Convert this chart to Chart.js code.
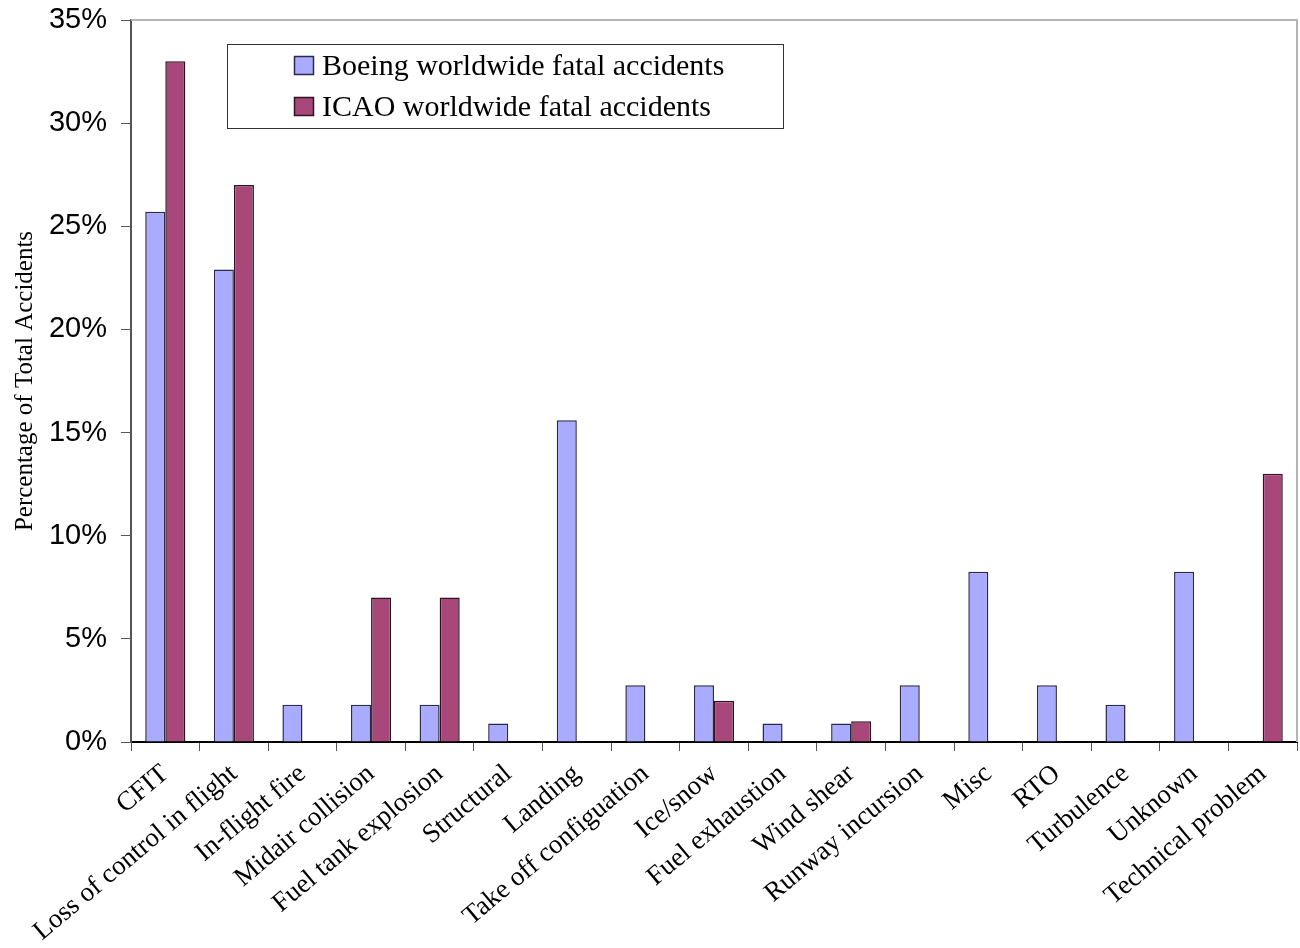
<!DOCTYPE html>
<html>
<head>
<meta charset="utf-8">
<script src="https://cdn.jsdelivr.net/npm/chart.js@4/dist/chart.umd.min.js"></script>
<style>
	html, body { margin: 0; padding: 0; background: #fff; }
	#wrap { width: 1300px; height: 948px; }
</style>
</head>
<body>
<div id="wrap"><canvas id="accidentsChart" width="1300" height="948"></canvas></div>
<script>
const categories = ['CFIT', 'Loss of control in flight', 'In-flight fire', 'Midair collision',
	'Fuel tank explosion', 'Structural', 'Landing', 'Take off configuation', 'Ice/snow',
	'Fuel exhaustion', 'Wind shear', 'Runway incursion', 'Misc', 'RTO', 'Turbulence',
	'Unknown', 'Technical problem'];
const boeingValues = [25.7, 22.9, 1.8, 1.8, 1.8, 0.9, 15.6, 2.75, 2.75, 0.9, 0.9, 2.75, 8.25, 2.75, 1.8, 8.25, null];
const icaoValues = [33, 27, null, 7, 7, null, null, null, 2, null, 1, null, null, null, null, null, 13];
const yTicks = [0, 5, 10, 15, 20, 25, 30, 35];

let periwinkle = '#a9abff';
let periwinkleBorder = '#2a2a48';
let plum = '#a8487a';
let plumBorder = '#2e1422';
let serif = '"Liberation Serif", "Times New Roman", serif';
let sans = '"Liberation Sans", Arial, sans-serif';

// Light grey frame on top and right of the plot, legend box inside it
const framePlugin = {
	id: 'frame',
	afterDraw(chart) {
		const ctx = chart.ctx;
		const area = chart.chartArea;
		ctx.save();
		ctx.strokeStyle = '#b4b4b4';
		ctx.lineWidth = 2;
		ctx.beginPath();
		ctx.moveTo(area.left, area.top);
		ctx.lineTo(area.right, area.top);
		ctx.lineTo(area.right, area.bottom);
		ctx.stroke();

		// legend
		const box = { x: 227.5, y: 44.5, w: 556, h: 84 };
		ctx.fillStyle = '#fff';
		ctx.fillRect(box.x, box.y, box.w, box.h);
		ctx.strokeStyle = '#333';
		ctx.lineWidth = 1;
		ctx.strokeRect(box.x, box.y, box.w, box.h);

		ctx.font = '30px ' + serif;
		ctx.textBaseline = 'middle';
		ctx.textAlign = 'left';
		chart.data.datasets.forEach(function(ds, i) {
			let cy = 66 + i * 41;
			ctx.fillStyle = ds.backgroundColor;
			ctx.fillRect(294.5, cy - 9.5, 19, 18);
			ctx.strokeStyle = ds.borderColor;
			ctx.lineWidth = 1.5;
			ctx.strokeRect(294.5, cy - 9.5, 19, 18);
			ctx.fillStyle = '#000';
			ctx.fillText(ds.label, 322, cy + 1);
		});
		ctx.restore();
	}
};

function noEdgePadding(scale) {
	// keep tick labels from pushing the plot area in; layout padding does it
	scale.paddingTop = 0;
	scale.paddingBottom = 0;
	scale.paddingLeft = 0;
	scale.paddingRight = 0;
}

function initChart() {
	const ctx = document.getElementById('accidentsChart').getContext('2d');

	const config = {
		type: 'bar',
		data: {
			labels: categories,
			datasets: [
				{
					label: 'Boeing worldwide fatal accidents',
					data: boeingValues,
					backgroundColor: periwinkle,
					borderColor: periwinkleBorder,
					borderWidth: 1.5,
				},
				{
					label: 'ICAO worldwide fatal accidents',
					data: icaoValues,
					backgroundColor: plum,
					borderColor: plumBorder,
					borderWidth: 1.5,
				}
			],
		},
		options: {
			responsive: false,
			animation: false,
			layout: {
				padding: { top: 20, right: 3, left: 0, bottom: 0 },
			},
			datasets: {
				bar: {
					categoryPercentage: 0.585,
					barPercentage: 1,
				},
			},
			plugins: {
				legend: { display: false },
				tooltip: { enabled: false },
			},
			scales: {
				x: {
					grid: {
						display: true,
						drawOnChartArea: false,
						drawTicks: true,
						tickLength: 9,
						color: '#555',
						offset: true,
					},
					border: { color: '#000', width: 2 },
					ticks: {
						color: '#000',
						font: { family: serif, size: 27 },
						minRotation: 40,
						maxRotation: 40,
						autoSkip: false,
						padding: 7,
					},
					afterFit(scale) {
						scale.height = 206;
						noEdgePadding(scale);
					},
				},
				y: {
					min: 0,
					max: 35,
					afterBuildTicks(scale) {
						scale.ticks = yTicks.map(function(v) { return { value: v }; });
					},
					grid: {
						display: true,
						drawOnChartArea: false,
						drawTicks: true,
						tickLength: 10,
						color: '#555',
					},
					border: { color: '#555', width: 2 },
					ticks: {
						color: '#000',
						font: { family: sans, size: 29 },
						padding: 14,
						callback: function(v) { return v + '%'; },
					},
					title: {
						display: true,
						text: 'Percentage of Total Accidents',
						color: '#000',
						font: { family: serif, size: 25 },
						padding: { top: 10, bottom: 0 },
					},
					afterFit(scale) {
						scale.width = 131;
						noEdgePadding(scale);
					},
				},
			},
		},
		plugins: [framePlugin],
	};

	new Chart(ctx, config);
}

initChart();
</script>
</body>
</html>
